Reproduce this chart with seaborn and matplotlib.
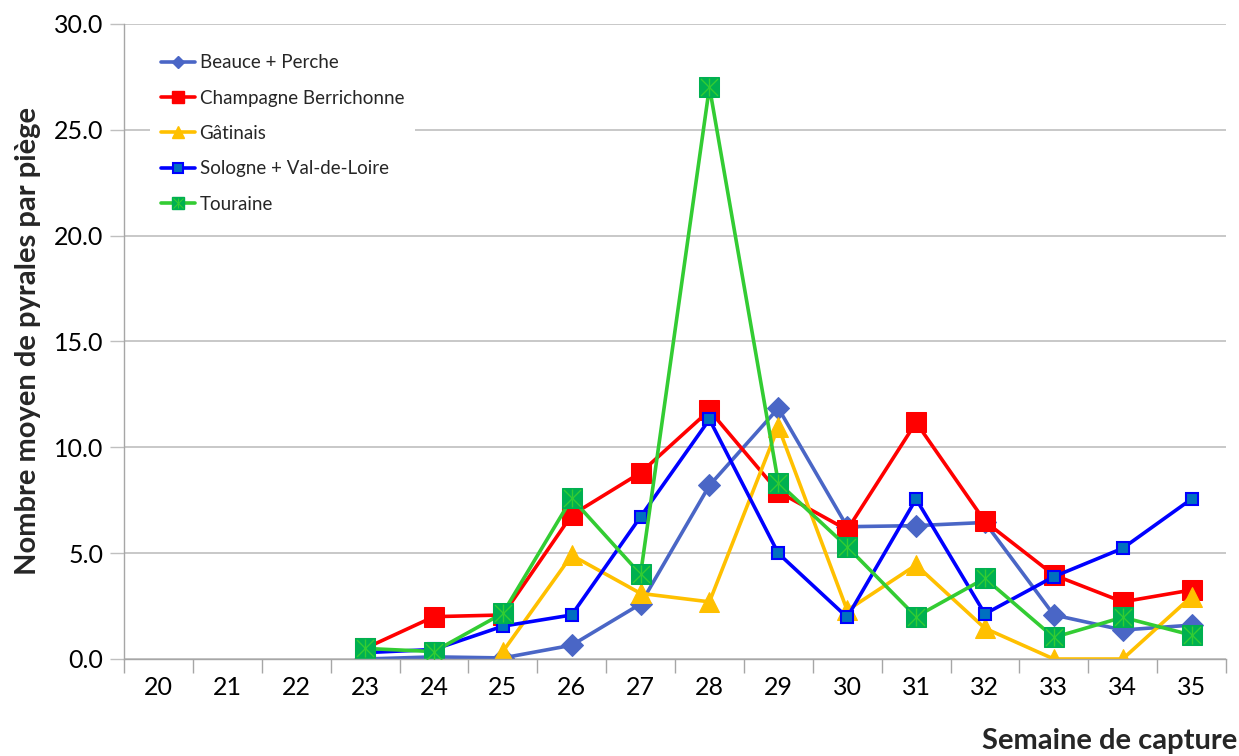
import numpy as np
import pandas as pd
import matplotlib
matplotlib.use("Agg")
import matplotlib.pyplot as plt
from matplotlib.legend_handler import HandlerTuple
from matplotlib.lines import Line2D
import seaborn as sns

weeks = list(range(20, 36))
nan = np.nan
beauce = [nan, nan, nan, 0.0, 0.1, 0.05, 0.65, 2.6, 8.2, 11.85, 6.25, 6.3, 6.45, 2.08, 1.37, 1.6]
champagne = [nan, nan, nan, 0.5, 2.0, 2.08, 6.8, 8.8, 11.75, 7.9, 6.1, 11.18, 6.5, 3.97, 2.7, 3.26]
gatinais = [nan, nan, nan, nan, nan, 0.35, 4.9, 3.1, 2.7, 10.97, 2.3, 4.44, 1.45, 0.0, 0.0, 2.95]
sologne = [nan, nan, nan, 0.3, 0.45, 1.55, 2.08, 6.72, 11.32, 4.99, 1.97, 7.56, 2.13, 3.89, 5.23, 7.56]
touraine = [nan, nan, nan, 0.5, 0.35, 2.16, 7.59, 4.0, 27.02, 8.33, 5.3, 2.0, 3.81, 1.02, 1.97, 1.13]
series_names = ["Beauce + Perche", "Champagne Berrichonne", "Gâtinais",
                "Sologne + Val-de-Loire", "Touraine"]
y_ticks = [0, 5, 10, 15, 20, 25, 30]
x_label = "Semaine de capture"
y_label = "Nombre moyen de pyrales par piège"

sns.set_theme(style="white")
plt.rcParams['font.family'] = ['Lato', 'DejaVu Sans']

fig = plt.figure(figsize=(12.39, 7.56), dpi=100)
ax = fig.add_axes([124 / 1239, (756 - 659) / 756, 1102 / 1239, 635 / 756])

styles = [
    dict(color="#4A66C6", marker="D", markersize=11, markerfacecolor="#4A66C6",
         markeredgecolor="#4A66C6", lw=2.6),
    dict(color="#FF0000", marker="s", markersize=15, markerfacecolor="#FF0000",
         markeredgecolor="#FF0000", lw=2.6),
    dict(color="#FFC000", marker="^", markersize=15, markerfacecolor="#FFC000",
         markeredgecolor="#FFC000", lw=2.6),
    dict(color="#0000FF", marker="s", markersize=9, markerfacecolor="#0070C0",
         markeredgecolor="#0000FF", markeredgewidth=1.5, lw=2.6),
    dict(color="#33CC33", marker="s", markersize=15, markerfacecolor="#00B050",
         markeredgecolor="#00B050", lw=2.6),
]
legend_ms = [6.5, 9, 9, 7, 9]
data = [beauce, champagne, gatinais, sologne, touraine]

handles = []
for name, vals, st, lms in zip(series_names, data, styles, legend_ms):
    df = pd.DataFrame({"week": weeks, "val": vals}).dropna()
    sns.lineplot(data=df, x="week", y="val", ax=ax, legend=False, **st)
    hst = dict(st)
    hst["markersize"] = lms
    handles.append(Line2D([], [], **hst))

# asterisk overlay on Touraine markers
df_t = pd.DataFrame({"week": weeks, "val": touraine}).dropna()
for m in ["x", "|"]:
    sns.scatterplot(data=df_t, x="week", y="val", ax=ax, marker=m, s=150,
                    color="#33CC33", linewidth=1.0, legend=False, zorder=5)
ov = [Line2D([], [], ls="none", marker=m, markersize=7, markeredgecolor="#33CC33",
             markeredgewidth=0.8) for m in ["x", "|"]]
handles[4] = (handles[4], ov[0], ov[1])

ax.set_xlim(19.5, 35.5)
ax.set_ylim(0, 30)
ax.set_yticks(y_ticks)
ax.set_yticklabels([f"{v:.1f}" for v in y_ticks])
ax.set_xticks(weeks)
ax.set_xticklabels([str(w) for w in weeks])
ax.set_xticks(np.arange(19.5, 36.0, 1.0), minor=True)
ax.tick_params(axis="x", which="major", length=0, labelsize=18, pad=12)
ax.tick_params(axis="x", which="minor", length=10, width=1, color="#A6A6A6", bottom=True)
ax.tick_params(axis="y", which="major", length=10, width=1, color="#BFBFBF",
               labelsize=18, pad=5, left=True)
for t in ax.get_xticklabels() + ax.get_yticklabels():
    t.set_color("#000000")
ax.yaxis.grid(True, color="#BFBFBF", lw=1.2)
ax.set_axisbelow(True)
for s in ["top", "right"]:
    ax.spines[s].set_visible(False)
ax.spines["left"].set_color("#A6A6A6")
ax.spines["bottom"].set_color("#A6A6A6")
ax.spines["left"].set_linewidth(1)
ax.spines["bottom"].set_linewidth(1)

ax.set_xlabel("")
ax.set_ylabel("")
fig.text(28 / 1239, 1 - 341 / 756, y_label, rotation=90, ha="center", va="center",
         fontsize=21, fontweight="bold")
fig.text(1237 / 1239, 1 - 741 / 756, x_label, ha="right", va="center",
         fontsize=21, fontweight="bold")

leg = ax.legend(handles, series_names, loc="upper left",
                bbox_to_anchor=(0.015, 0.985), frameon=True, fancybox=False,
                framealpha=1, facecolor="white", edgecolor="white",
                fontsize=13.5, handlelength=1.8, labelspacing=0.98,
                handletextpad=0.25, borderpad=0.6,
                handler_map={tuple: HandlerTuple(ndivide=1, pad=0)})
leg.get_frame().set_linewidth(0)

fig.savefig("out.png", dpi=100)
